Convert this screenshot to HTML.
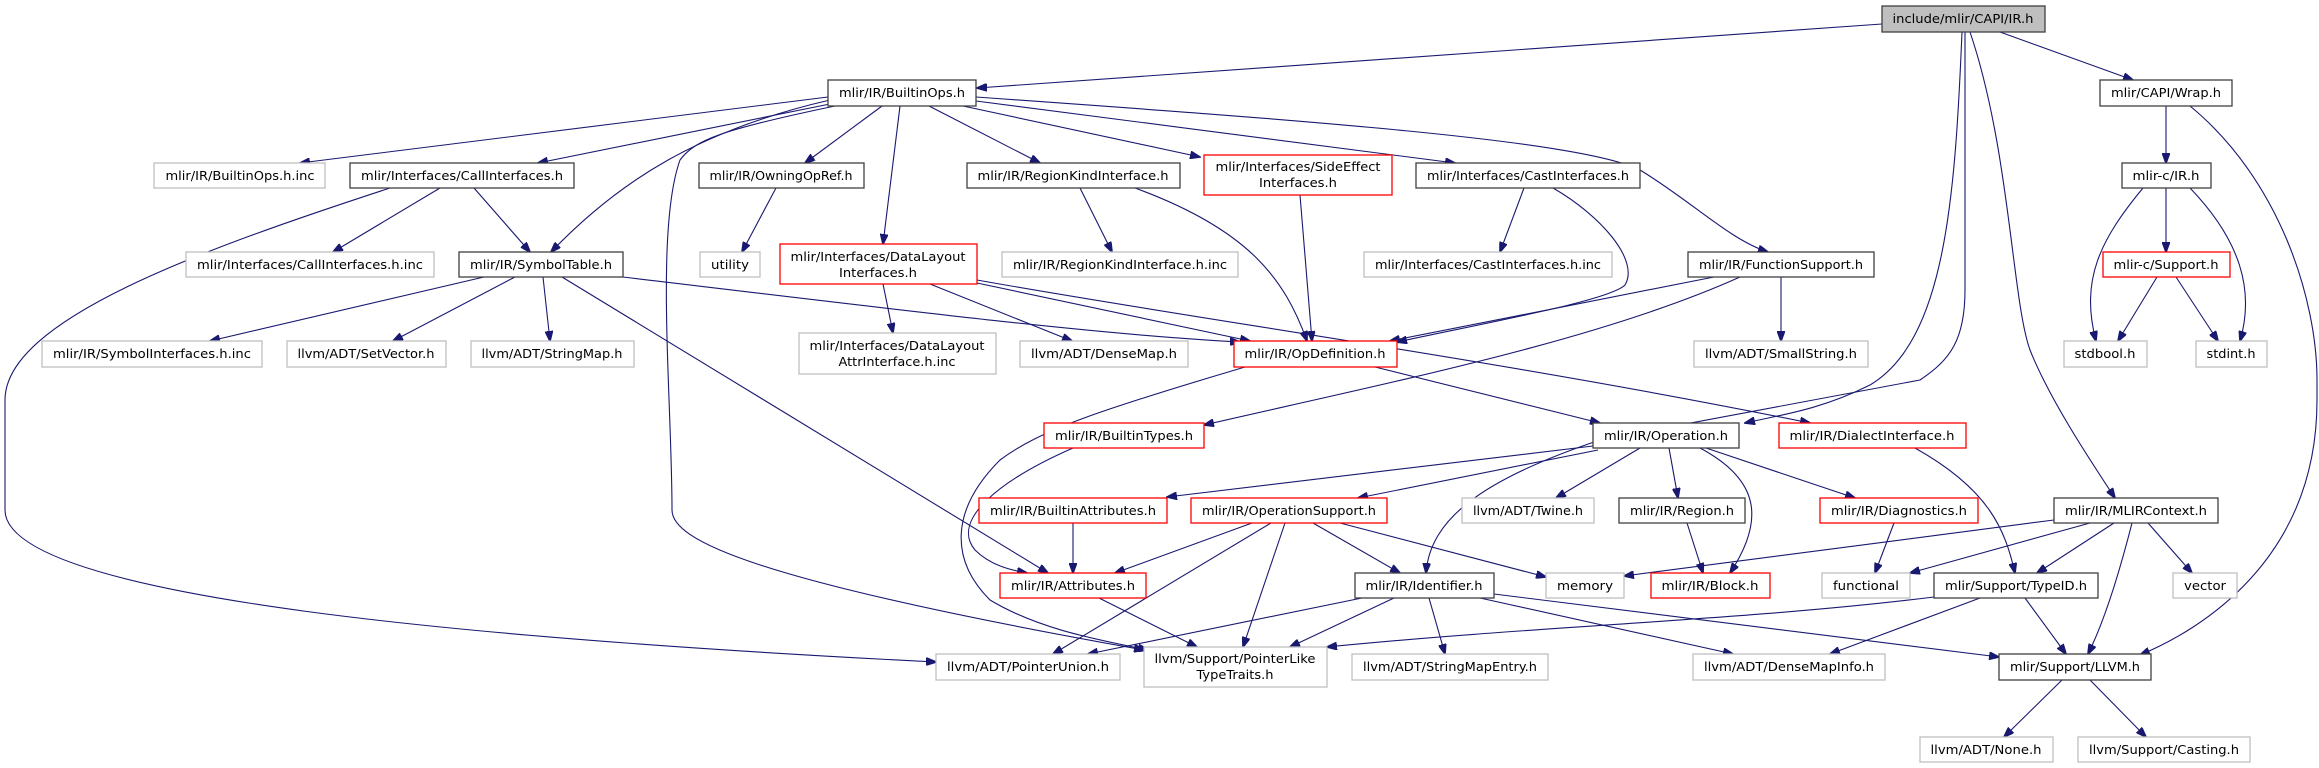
<!DOCTYPE html>
<html><head><meta charset="utf-8"><style>
html,body{margin:0;padding:0;background:#fff;}
svg{display:block;}
text{font-family:"DejaVu Sans","Liberation Sans",sans-serif;font-size:12px;fill:#000;text-anchor:middle;}
.b{fill:#fff;stroke:#404040;stroke-width:1.3}
.g{fill:#fff;stroke:#bfbfbf;stroke-width:1.3}
.r{fill:#fff;stroke:#ff0000;stroke-width:1.3}
.t{fill:#bfbfbf;stroke:#404040;stroke-width:1.3}
path{fill:none;stroke:#191970;stroke-width:1.1}
</style></head><body>
<svg width="2319" height="768" viewBox="0 0 2319 768" xmlns="http://www.w3.org/2000/svg">
<defs><marker id="a" markerWidth="11" markerHeight="8" refX="10" refY="4" orient="auto" markerUnits="userSpaceOnUse"><polygon points="0,0 11,4 0,8" fill="#191970" stroke="#191970"/></marker></defs>
<g marker-end="url(#a)">
<path d="M1882,24 L977,88"/>
<path d="M2000,32 L2133,80"/>
<path d="M1962,32 C1955,200 1945,340 1870,385 C1820,410 1780,415 1745,423"/>
<path d="M1965,32 L1965,290 C1965,340 1950,360 1920,380 L1600,440 C1480,480 1430,520 1426,573"/>
<path d="M1970,32 C2010,150 2012,300 2030,350 C2050,400 2090,460 2115,498"/>
<path d="M2166,106 L2166,163"/>
<path d="M2190,106 C2280,180 2317,300 2317,380 L2317,400 C2317,560 2200,630 2140,655"/>
<path d="M2143,188 C2100,240 2080,280 2096,341"/>
<path d="M2166,188 L2166,252"/>
<path d="M2190,188 C2240,240 2255,290 2240,341"/>
<path d="M2157,277 L2118,341"/>
<path d="M2176,277 L2218,341"/>
<path d="M828,97 L300,163"/>
<path d="M830,104 L538,163"/>
<path d="M830,100 C700,130 620,180 551,252"/>
<path d="M835,106 C720,130 695,140 680,160 C655,230 672,400 672,510 C672,540 750,580 1144,650"/>
<path d="M390,188 C200,250 5,320 5,400 L5,510 C5,600 500,640 936,662"/>
<path d="M882,106 L805,163"/>
<path d="M900,106 L883,244"/>
<path d="M929,106 L1040,163"/>
<path d="M963,106 L1200,157"/>
<path d="M976,101 L1455,163"/>
<path d="M976,97 C1300,120 1580,140 1640,170 C1690,200 1730,240 1768,252"/>
<path d="M440,188 L333,252"/>
<path d="M474,188 L530,252"/>
<path d="M776,188 L742,252"/>
<path d="M1080,188 L1112,252"/>
<path d="M1135,188 C1250,230 1285,280 1307,341"/>
<path d="M1300,195 L1312,341"/>
<path d="M1524,188 L1500,252"/>
<path d="M1553,188 C1600,215 1640,260 1625,285 C1610,300 1500,320 1397,342"/>
<path d="M1714,277 L1390,341"/>
<path d="M1740,277 C1600,340 1400,380 1204,425"/>
<path d="M1781,277 L1781,341"/>
<path d="M883,284 L893,333"/>
<path d="M930,284 L1072,341"/>
<path d="M977,283 L1250,341"/>
<path d="M977,280 C1200,320 1500,360 1810,423"/>
<path d="M623,277 C900,310 1100,335 1240,342"/>
<path d="M484,277 L210,341"/>
<path d="M515,277 L393,341"/>
<path d="M543,277 L550,341"/>
<path d="M562,277 L1048,573"/>
<path d="M1375,367 L1600,423"/>
<path d="M1245,367 C1100,410 1040,430 1000,460 C950,510 950,560 990,600 C1040,630 1100,640 1148,650"/>
<path d="M1073,448 C1000,480 950,520 975,550 C990,565 1010,570 1027,573"/>
<path d="M1593,446 L1167,497"/>
<path d="M1598,450 L1358,498"/>
<path d="M1640,448 L1556,498"/>
<path d="M1669,448 L1678,498"/>
<path d="M1700,448 C1760,480 1765,520 1730,573"/>
<path d="M1706,448 L1855,498"/>
<path d="M1687,523 L1703,573"/>
<path d="M1894,523 L1875,573"/>
<path d="M1915,448 C1990,490 2005,530 2015,573"/>
<path d="M1073,523 L1073,573"/>
<path d="M1252,523 L1115,573"/>
<path d="M1271,523 L1053,654"/>
<path d="M1285,523 L1243,647"/>
<path d="M1313,523 L1400,573"/>
<path d="M1340,523 L1546,577"/>
<path d="M1099,598 L1197,647"/>
<path d="M1362,598 L1088,654"/>
<path d="M1394,598 L1290,647"/>
<path d="M1429,598 L1445,654"/>
<path d="M1480,598 L1733,654"/>
<path d="M1494,594 L1999,657"/>
<path d="M2054,520 L1624,576"/>
<path d="M2090,523 L1910,573"/>
<path d="M2114,523 L2037,573"/>
<path d="M2132,523 C2120,570 2105,620 2088,654"/>
<path d="M2148,523 L2192,573"/>
<path d="M1934,597 C1750,620 1550,625 1327,647"/>
<path d="M1980,598 L1830,654"/>
<path d="M2025,598 L2066,654"/>
<path d="M2062,680 L2004,737"/>
<path d="M2090,680 L2146,737"/>
</g>

<rect class="t" x="1882" y="6" width="163" height="26"/><text x="1963" y="23" textLength="141" lengthAdjust="spacingAndGlyphs">include/mlir/CAPI/IR.h</text>
<rect class="b" x="828" y="80" width="148" height="26"/><text x="902" y="97" textLength="126" lengthAdjust="spacingAndGlyphs">mlir/IR/BuiltinOps.h</text>
<rect class="b" x="2100" y="80" width="132" height="26"/><text x="2166" y="97" textLength="110" lengthAdjust="spacingAndGlyphs">mlir/CAPI/Wrap.h</text>

<rect class="g" x="154" y="163" width="171" height="25"/><text x="240" y="180" textLength="149" lengthAdjust="spacingAndGlyphs">mlir/IR/BuiltinOps.h.inc</text>
<rect class="b" x="350" y="163" width="224" height="25"/><text x="462" y="180" textLength="202" lengthAdjust="spacingAndGlyphs">mlir/Interfaces/CallInterfaces.h</text>
<rect class="b" x="699" y="163" width="165" height="25"/><text x="781" y="180" textLength="143" lengthAdjust="spacingAndGlyphs">mlir/IR/OwningOpRef.h</text>
<rect class="b" x="967" y="163" width="213" height="25"/><text x="1073" y="180" textLength="191" lengthAdjust="spacingAndGlyphs">mlir/IR/RegionKindInterface.h</text>
<rect class="r" x="1204" y="155" width="188" height="40"/><text x="1298" y="171" textLength="165" lengthAdjust="spacingAndGlyphs">mlir/Interfaces/SideEffect</text><text x="1298" y="187" textLength="78" lengthAdjust="spacingAndGlyphs">Interfaces.h</text>
<rect class="b" x="1416" y="163" width="224" height="25"/><text x="1528" y="180" textLength="202" lengthAdjust="spacingAndGlyphs">mlir/Interfaces/CastInterfaces.h</text>
<rect class="b" x="2122" y="163" width="89" height="25"/><text x="2166" y="180" textLength="67" lengthAdjust="spacingAndGlyphs">mlir-c/IR.h</text>

<rect class="g" x="186" y="252" width="248" height="25"/><text x="310" y="269" textLength="226" lengthAdjust="spacingAndGlyphs">mlir/Interfaces/CallInterfaces.h.inc</text>
<rect class="b" x="459" y="252" width="164" height="25"/><text x="541" y="269" textLength="142" lengthAdjust="spacingAndGlyphs">mlir/IR/SymbolTable.h</text>
<rect class="g" x="700" y="252" width="60" height="25"/><text x="730" y="269" textLength="38" lengthAdjust="spacingAndGlyphs">utility</text>
<rect class="r" x="780" y="244" width="197" height="40"/><text x="878" y="261" textLength="175" lengthAdjust="spacingAndGlyphs">mlir/Interfaces/DataLayout</text><text x="878" y="277" textLength="78" lengthAdjust="spacingAndGlyphs">Interfaces.h</text>
<rect class="g" x="1002" y="252" width="236" height="25"/><text x="1120" y="269" textLength="214" lengthAdjust="spacingAndGlyphs">mlir/IR/RegionKindInterface.h.inc</text>
<rect class="g" x="1364" y="252" width="248" height="25"/><text x="1488" y="269" textLength="226" lengthAdjust="spacingAndGlyphs">mlir/Interfaces/CastInterfaces.h.inc</text>
<rect class="b" x="1688" y="252" width="186" height="25"/><text x="1781" y="269" textLength="164" lengthAdjust="spacingAndGlyphs">mlir/IR/FunctionSupport.h</text>
<rect class="r" x="2103" y="252" width="127" height="25"/><text x="2166" y="269" textLength="105" lengthAdjust="spacingAndGlyphs">mlir-c/Support.h</text>

<rect class="g" x="42" y="341" width="220" height="26"/><text x="152" y="358" textLength="198" lengthAdjust="spacingAndGlyphs">mlir/IR/SymbolInterfaces.h.inc</text>
<rect class="g" x="287" y="341" width="159" height="26"/><text x="366" y="358" textLength="137" lengthAdjust="spacingAndGlyphs">llvm/ADT/SetVector.h</text>
<rect class="g" x="471" y="341" width="163" height="26"/><text x="552" y="358" textLength="141" lengthAdjust="spacingAndGlyphs">llvm/ADT/StringMap.h</text>
<rect class="g" x="799" y="333" width="197" height="41"/><text x="897" y="350" textLength="175" lengthAdjust="spacingAndGlyphs">mlir/Interfaces/DataLayout</text><text x="897" y="366" textLength="117" lengthAdjust="spacingAndGlyphs">AttrInterface.h.inc</text>
<rect class="g" x="1020" y="341" width="168" height="26"/><text x="1104" y="358" textLength="146" lengthAdjust="spacingAndGlyphs">llvm/ADT/DenseMap.h</text>
<rect class="r" x="1234" y="341" width="163" height="26"/><text x="1315" y="358" textLength="141" lengthAdjust="spacingAndGlyphs">mlir/IR/OpDefinition.h</text>
<rect class="g" x="1694" y="341" width="174" height="26"/><text x="1781" y="358" textLength="152" lengthAdjust="spacingAndGlyphs">llvm/ADT/SmallString.h</text>
<rect class="g" x="2064" y="341" width="83" height="26"/><text x="2105" y="358" textLength="61" lengthAdjust="spacingAndGlyphs">stdbool.h</text>
<rect class="g" x="2196" y="341" width="71" height="26"/><text x="2231" y="358" textLength="49" lengthAdjust="spacingAndGlyphs">stdint.h</text>

<rect class="r" x="1044" y="423" width="160" height="25"/><text x="1124" y="440" textLength="138" lengthAdjust="spacingAndGlyphs">mlir/IR/BuiltinTypes.h</text>
<rect class="b" x="1593" y="423" width="146" height="25"/><text x="1666" y="440" textLength="124" lengthAdjust="spacingAndGlyphs">mlir/IR/Operation.h</text>
<rect class="r" x="1779" y="423" width="187" height="25"/><text x="1872" y="440" textLength="165" lengthAdjust="spacingAndGlyphs">mlir/IR/DialectInterface.h</text>

<rect class="r" x="979" y="498" width="188" height="25"/><text x="1073" y="515" textLength="166" lengthAdjust="spacingAndGlyphs">mlir/IR/BuiltinAttributes.h</text>
<rect class="r" x="1191" y="498" width="196" height="25"/><text x="1289" y="515" textLength="174" lengthAdjust="spacingAndGlyphs">mlir/IR/OperationSupport.h</text>
<rect class="g" x="1462" y="498" width="132" height="25"/><text x="1528" y="515" textLength="110" lengthAdjust="spacingAndGlyphs">llvm/ADT/Twine.h</text>
<rect class="b" x="1619" y="498" width="126" height="25"/><text x="1682" y="515" textLength="104" lengthAdjust="spacingAndGlyphs">mlir/IR/Region.h</text>
<rect class="r" x="1820" y="498" width="158" height="25"/><text x="1899" y="515" textLength="136" lengthAdjust="spacingAndGlyphs">mlir/IR/Diagnostics.h</text>
<rect class="b" x="2054" y="498" width="164" height="25"/><text x="2136" y="515" textLength="142" lengthAdjust="spacingAndGlyphs">mlir/IR/MLIRContext.h</text>

<rect class="r" x="1000" y="573" width="146" height="25"/><text x="1073" y="590" textLength="124" lengthAdjust="spacingAndGlyphs">mlir/IR/Attributes.h</text>
<rect class="b" x="1355" y="573" width="139" height="25"/><text x="1424" y="590" textLength="117" lengthAdjust="spacingAndGlyphs">mlir/IR/Identifier.h</text>
<rect class="g" x="1546" y="573" width="78" height="25"/><text x="1585" y="590" textLength="56" lengthAdjust="spacingAndGlyphs">memory</text>
<rect class="r" x="1651" y="573" width="119" height="25"/><text x="1710" y="590" textLength="97" lengthAdjust="spacingAndGlyphs">mlir/IR/Block.h</text>
<rect class="g" x="1822" y="573" width="88" height="25"/><text x="1866" y="590" textLength="66" lengthAdjust="spacingAndGlyphs">functional</text>
<rect class="b" x="1934" y="573" width="164" height="25"/><text x="2016" y="590" textLength="142" lengthAdjust="spacingAndGlyphs">mlir/Support/TypeID.h</text>
<rect class="g" x="2173" y="573" width="64" height="25"/><text x="2205" y="590" textLength="42" lengthAdjust="spacingAndGlyphs">vector</text>

<rect class="g" x="936" y="654" width="184" height="26"/><text x="1028" y="671" textLength="162" lengthAdjust="spacingAndGlyphs">llvm/ADT/PointerUnion.h</text>
<rect class="g" x="1144" y="647" width="183" height="40"/><text x="1235" y="663" textLength="161" lengthAdjust="spacingAndGlyphs">llvm/Support/PointerLike</text><text x="1235" y="679" textLength="77" lengthAdjust="spacingAndGlyphs">TypeTraits.h</text>
<rect class="g" x="1352" y="654" width="196" height="26"/><text x="1450" y="671" textLength="174" lengthAdjust="spacingAndGlyphs">llvm/ADT/StringMapEntry.h</text>
<rect class="g" x="1693" y="654" width="192" height="26"/><text x="1789" y="671" textLength="170" lengthAdjust="spacingAndGlyphs">llvm/ADT/DenseMapInfo.h</text>
<rect class="b" x="1999" y="654" width="152" height="26"/><text x="2075" y="671" textLength="130" lengthAdjust="spacingAndGlyphs">mlir/Support/LLVM.h</text>

<rect class="g" x="1920" y="737" width="133" height="25"/><text x="1986" y="754" textLength="111" lengthAdjust="spacingAndGlyphs">llvm/ADT/None.h</text>
<rect class="g" x="2078" y="737" width="172" height="25"/><text x="2164" y="754" textLength="150" lengthAdjust="spacingAndGlyphs">llvm/Support/Casting.h</text>
</svg>
</body></html>
